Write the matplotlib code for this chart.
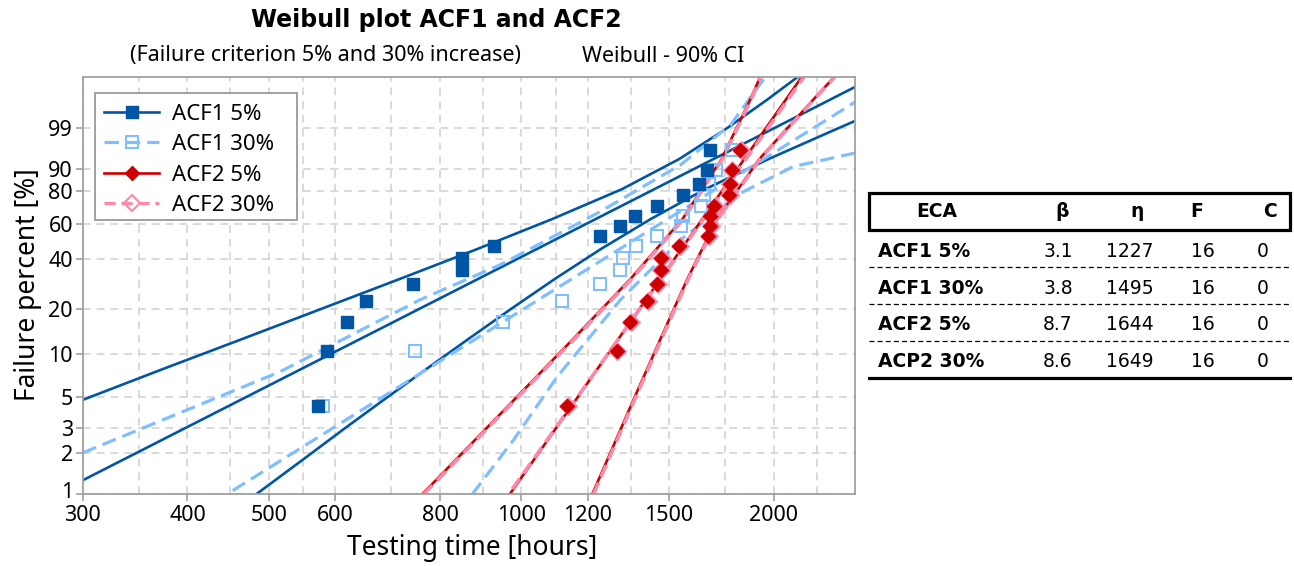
import numpy as np
import matplotlib
matplotlib.use("Agg")
import matplotlib.pyplot as plt
from matplotlib.lines import Line2D
from matplotlib.patches import Rectangle
from matplotlib.transforms import ScaledTranslation
from matplotlib.ticker import FixedLocator, NullFormatter, NullLocator

# ---------------- data ----------------
rank_pct = [4.27, 10.37, 16.46, 22.56, 28.66, 34.76, 40.85, 46.95,
            53.05, 59.15, 65.24, 71.34, 77.44, 83.54, 89.63, 95.73]

time_acf1_5 = [573, 587, 620, 653, 742, 850, 850, 927, 1240, 1311, 1366, 1450, 1559, 1629, 1667, 1679]
time_acf1_30 = [581, 748, 951, 1117, 1240, 1310, 1322, 1372, 1450, 1549, 1559, 1639, 1651, 1674, 1705, 1782]
time_acf2_5 = [1134, 1299, 1347, 1413, 1452, 1466, 1466, 1541, 1670, 1677, 1679, 1696, 1769, 1772, 1782, 1824]
time_acf2_30 = [1138, 1302, 1350, 1415, 1455, 1468, 1471, 1545, 1673, 1683, 1686, 1701, 1772, 1776, 1786, 1829]

legend_labels = ["ACF1 5%", "ACF1 30%", "ACF2 5%", "ACF2 30%"]

# table values (Weibull parameters)
eca = ["ACF1 5%", "ACF1 30%", "ACF2 5%", "ACP2 30%"]
beta = [3.1, 3.8, 8.7, 8.6]
eta = [1227, 1495, 1644, 1649]
n_fail = [16, 16, 16, 16]
n_cens = [0, 0, 0, 0]

# 90% confidence bounds (time [h], failure %)
ci_acf1_5_up_t = [300, 375, 466, 578, 717, 887, 1089, 1319, 1542, 1752, 1967, 2149]
ci_acf1_5_up_F = [4.75, 7.88, 12.66, 20.0, 30.78, 45.48, 63.21, 80.77, 93.40, 98.87, 99.938, 99.9984]
ci_acf1_5_lo_t = [483, 552, 616, 689, 772, 866, 973, 1097, 1245, 1427, 1658, 1970, 2373, 2500]
ci_acf1_5_lo_F = [1.0, 1.82, 2.98, 4.86, 7.88, 12.66, 20.0, 30.78, 45.48, 63.21, 80.77, 93.40, 98.87, 99.42]

ci_acf1_30_up_t = [300, 516, 757, 944, 1241, 1549, 1777, 1956]
ci_acf1_30_up_F = [1.99, 7.51, 22.82, 37.19, 67.64, 91.59, 99.20, 99.998]
ci_acf1_30_lo_t = [874, 979, 1104, 1313, 1549, 1826, 2112, 2500]
ci_acf1_30_lo_F = [1.0, 2.46, 6.93, 22.82, 50.66, 78.61, 90.99, 95.08]

ci_acf2_5_up_t = [762, 839, 984, 1154, 1350, 1557, 1733, 1876, 1938]
ci_acf2_5_up_F = [1.0, 1.82, 4.86, 12.66, 30.78, 63.21, 93.40, 99.938, 99.9991]
ci_acf2_5_lo_t = [1215, 1269, 1363, 1466, 1578, 1712, 1922, 2231, 2390]
ci_acf2_5_lo_F = [1.0, 1.82, 4.86, 12.66, 30.78, 63.21, 93.40, 99.938, 99.9991]

ci_acf2_30_up_t = [765, 842, 987, 1158, 1354, 1561, 1737, 1880, 1942]
ci_acf2_30_up_F = [1.0, 1.82, 4.86, 12.66, 30.78, 63.21, 93.40, 99.938, 99.9991]
ci_acf2_30_lo_t = [1219, 1273, 1367, 1470, 1582, 1716, 1926, 2235, 2394]
ci_acf2_30_lo_F = [1.0, 1.82, 4.86, 12.66, 30.78, 63.21, 93.40, 99.938, 99.9991]

x_major = [300, 400, 500, 600, 800, 1000, 1200, 1500, 2000]
x_minor = [350, 450, 550, 700, 900, 1100, 1350, 1750, 2250]
y_ticks = [1, 2, 3, 5, 10, 20, 40, 60, 80, 90, 99]

# ---------------- style ----------------
C_DB = "#0055a5"
C_LB = "#80bfff"
C_RD = "#cc0000"
C_PK = "#ff88a8"
FONT = "Noto Sans"

W, H = 1294, 566
fig = plt.figure(figsize=(W / 100, H / 100), dpi=100)
L, R, T, B = 82.7, 855, 76.5, 494.3
ax = fig.add_axes([L / W, 1 - B / H, (R - L) / W, (B - T) / H])


def fwd(p):
    p = np.clip(np.asarray(p, dtype=float), 1e-6, 100 - 1e-9)
    return np.log(-np.log(1 - p / 100.0))


def inv(y):
    return 100.0 * (1 - np.exp(-np.exp(np.asarray(y, dtype=float))))


ax.set_xscale("log")
ax.set_yscale("function", functions=(fwd, inv))
ax.set_xlim(300, 2500)
ax.set_ylim(1, 99.998)


def fit_line(b, e):
    F_end = np.array([0.5, 99.9995])
    t_end = e * (-np.log(1 - F_end / 100)) ** (1 / b)
    return t_end, F_end


# ACF1 5%
kw_db = dict(color=C_DB, lw=1.9, solid_joinstyle="round")
ax.plot(ci_acf1_5_up_t, ci_acf1_5_up_F, **kw_db)
ax.plot(ci_acf1_5_lo_t, ci_acf1_5_lo_F, **kw_db)
ax.plot(*fit_line(beta[0], eta[0]), **kw_db)
# ACF1 30%
kw_lb = dict(color=C_LB, lw=2.3, dashes=(4.5, 2.2))
ax.plot(ci_acf1_30_up_t, ci_acf1_30_up_F, **kw_lb)
ax.plot(ci_acf1_30_lo_t, ci_acf1_30_lo_F, **kw_lb)
ax.plot(*fit_line(beta[1], eta[1]), **kw_lb)
# ACF2 5%
kw_rd = dict(color=C_RD, lw=1.9, solid_joinstyle="round")
ax.plot(ci_acf2_5_up_t, ci_acf2_5_up_F, **kw_rd)
ax.plot(ci_acf2_5_lo_t, ci_acf2_5_lo_F, **kw_rd)
ax.plot(*fit_line(beta[2], eta[2]), **kw_rd)
# ACF2 30%
kw_pk = dict(color=C_PK, lw=2.6, dashes=(3.5, 1.8))
ax.plot(ci_acf2_30_up_t, ci_acf2_30_up_F, **kw_pk)
ax.plot(ci_acf2_30_lo_t, ci_acf2_30_lo_F, **kw_pk)
ax.plot(*fit_line(beta[3], eta[3]), **kw_pk)

# points
ax.plot(time_acf1_30, rank_pct, ls="none", marker="s", ms=8, mfc="none", mec=C_LB, mew=1.5)
ax.plot(time_acf1_5, rank_pct, ls="none", marker="s", ms=8.5, mfc=C_DB, mec=C_DB)
ax.plot(time_acf2_30, rank_pct, ls="none", marker="D", ms=8.5, mfc="none", mec=C_PK, mew=1.8)
ax.plot(time_acf2_5, rank_pct, ls="none", marker="D", ms=7.5, mfc=C_RD, mec=C_RD)

# axes styling
ax.xaxis.set_major_locator(FixedLocator(x_major))
ax.xaxis.set_minor_locator(FixedLocator(x_minor))
ax.xaxis.set_minor_formatter(NullFormatter())
ax.set_xticklabels([str(v) for v in x_major])
ax.yaxis.set_major_locator(FixedLocator(y_ticks))
ax.yaxis.set_minor_locator(NullLocator())
ax.set_yticklabels([str(v) for v in y_ticks])

for s in ax.spines.values():
    s.set_color("#a0a0a0")
    s.set_linewidth(1.3)
ax.tick_params(axis="both", which="major", length=5, width=1.2, color="#a0a0a0",
               labelsize=15.5)
ax.tick_params(axis="x", which="major", pad=3)
ax.tick_params(axis="y", which="major", pad=2)
ax.tick_params(axis="x", which="minor", length=0)
for lab in ax.get_xticklabels() + ax.get_yticklabels():
    lab.set_fontfamily(FONT)
ax.grid(True, which="both", axis="x", color="#d0d0d0", lw=1.1, dashes=(5, 4))
ax.grid(True, which="major", axis="y", color="#d0d0d0", lw=1.1, dashes=(5, 4))
ax.set_axisbelow(True)
# lift the bottom y label ("1") a little so it clears the "300" x label
t0 = ax.yaxis.get_major_ticks()[0]
t0.label1.set_transform(t0.label1.get_transform() + ScaledTranslation(0, 4 / 100, fig.dpi_scale_trans))


# legend (frame drawn separately so its size matches the reference)
def ax_frac(px, py):
    return (px - L) / (R - L), (B - py) / (B - T)


lx0, ly0 = ax_frac(95, 220)
lx1, ly1 = ax_frac(297, 93)
ax.add_patch(Rectangle((lx0, ly0), lx1 - lx0, ly1 - ly0, transform=ax.transAxes,
                       facecolor="white", edgecolor="#999999", lw=1.3, zorder=4.5))
handles = [
    Line2D([], [], color=C_DB, lw=1.9, marker="s", ms=8.5, mfc=C_DB, mec=C_DB),
    Line2D([], [], color=C_LB, lw=2.3, dashes=(4.5, 2.2), marker="s", ms=8, mfc="none", mec=C_LB, mew=1.5),
    Line2D([], [], color=C_RD, lw=1.9, marker="D", ms=7.5, mfc=C_RD, mec=C_RD),
    Line2D([], [], color=C_PK, lw=2.3, dashes=(3.5, 1.8), marker="D", ms=8, mfc="none", mec=C_PK, mew=1.5),
]
leg = ax.legend(handles, legend_labels, loc="upper left",
                bbox_to_anchor=ax_frac(95, 95), borderaxespad=0, frameon=False,
                prop=dict(family=FONT, size=16), handlelength=2.5, handletextpad=0.55,
                labelspacing=0.42, borderpad=0.4)
leg.set_zorder(5)

# titles and labels
fig.text(436 / W, 1 - 20 / H, "Weibull plot ACF1 and ACF2", ha="center", va="center",
         fontsize=17, fontweight="bold", family="DejaVu Sans")
fig.text(325 / W, 1 - 56 / H, "(Failure criterion 5% and 30% increase)", ha="center", va="center",
         fontsize=15.5, family=FONT)
fig.text(663 / W, 1 - 56 / H, "Weibull - 90% CI", ha="center", va="center",
         fontsize=15.5, family=FONT)
fig.text(472 / W, 1 - 548 / H, "Testing time [hours]", ha="center", va="center",
         fontsize=19, family=FONT)
fig.text(28 / W, 1 - 285 / H, "Failure percent [%]", ha="center", va="center",
         rotation=90, fontsize=19, family=FONT)

# ---------------- parameter table ----------------
TF = "DejaVu Sans"
TS = 13.5


def fx(px):
    return px / W


def fy(py):
    return 1 - py / H


tx0, tx1 = 869.3, 1290
fig.patches.append(Rectangle((fx(tx0), fy(230)), fx(tx1) - fx(tx0), fy(192.7) - fy(230),
                             transform=fig.transFigure, fill=False, lw=2.3, ec="black"))
headers = ["ECA", "β", "η", "F", "C"]
head_x = [936.7, 1061.7, 1136.7, 1196.7, 1270]
for hx, h in zip(head_x, headers):
    fig.text(fx(hx), fy(211.7), h, ha="center", va="center", fontsize=TS,
             fontweight="bold", family=TF)

row_y = [251.7, 288.3, 325, 361.7]
val_x = [1058, 1130, 1203, 1263]
for i, ry in enumerate(row_y):
    fig.text(fx(878.3), fy(ry), eca[i], ha="left", va="center", fontsize=TS,
             fontweight="bold", family=TF)
    vals = [f"{beta[i]:.1f}", f"{eta[i]}", f"{n_fail[i]}", f"{n_cens[i]}"]
    for vx, v in zip(val_x, vals):
        fig.text(fx(vx), fy(ry), v, ha="center", va="center", fontsize=TS, family=TF)

for dy in [267.3, 304, 340.7]:
    fig.add_artist(Line2D([fx(tx0), fx(tx1)], [fy(dy), fy(dy)], transform=fig.transFigure,
                          color="black", lw=0.9, dashes=(4, 2.5)))
fig.add_artist(Line2D([fx(tx0), fx(tx1)], [fy(378.3), fy(378.3)], transform=fig.transFigure,
                      color="black", lw=2.3))

fig.savefig("out.png", dpi=100)
